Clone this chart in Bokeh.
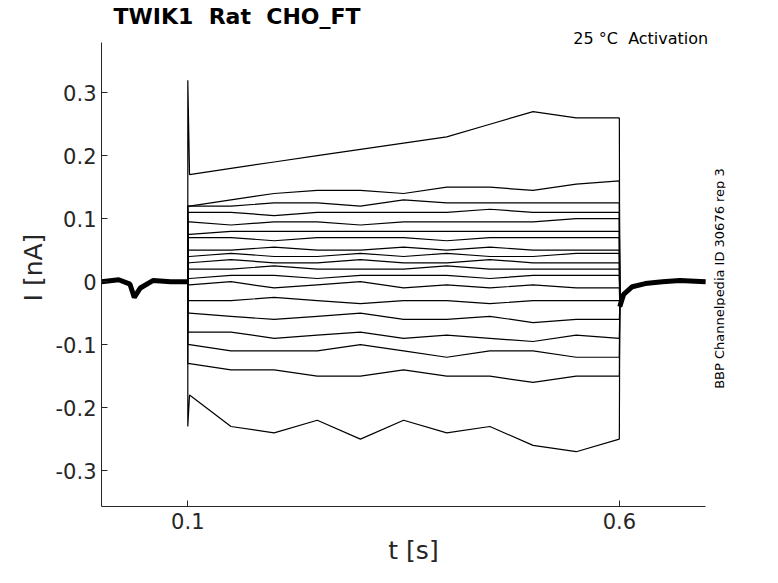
from bokeh.plotting import figure
from bokeh.models import Label, FixedTicker, Range1d
from bokeh.embed import file_html
from bokeh.resources import INLINE
import math

step_t = [0.1, 0.15, 0.2, 0.25, 0.3, 0.35, 0.4, 0.45, 0.5, 0.55, 0.6]
traces = [
 [0.17,0.18,0.19,0.20,0.21,0.22,0.23,0.25,0.27,0.26,0.26],
 [0.12,0.13,0.14,0.145,0.145,0.14,0.15,0.15,0.145,0.155,0.16],
 [0.12,0.12,0.125,0.125,0.12,0.13,0.125,0.125,0.125,0.125,0.125],
 [0.11,0.11,0.105,0.11,0.11,0.11,0.11,0.115,0.11,0.11,0.11],
 [0.095,0.09,0.095,0.095,0.09,0.095,0.095,0.095,0.095,0.1,0.1],
 [0.075,0.08,0.08,0.08,0.08,0.08,0.08,0.08,0.08,0.08,0.08],
 [0.07,0.07,0.065,0.07,0.07,0.07,0.065,0.07,0.07,0.07,0.07],
 [0.05,0.05,0.055,0.05,0.05,0.055,0.05,0.055,0.05,0.05,0.05],
 [0.04,0.045,0.04,0.04,0.045,0.04,0.045,0.04,0.04,0.045,0.045],
 [0.03,0.035,0.03,0.03,0.035,0.03,0.03,0.035,0.03,0.03,0.03],
 [0.02,0.02,0.025,0.02,0.02,0.02,0.025,0.02,0.02,0.02,0.02],
 [0.005,0.01,0.01,0.005,0.01,0.01,0.01,0.005,0.01,0.01,0.01],
 [-0.005,0.0,-0.01,-0.005,0.0,-0.01,-0.005,-0.01,-0.005,-0.01,-0.01],
 [-0.03,-0.03,-0.025,-0.03,-0.035,-0.03,-0.03,-0.035,-0.03,-0.03,-0.03],
 [-0.05,-0.055,-0.06,-0.055,-0.05,-0.06,-0.06,-0.055,-0.065,-0.06,-0.06],
 [-0.08,-0.08,-0.09,-0.085,-0.08,-0.09,-0.085,-0.09,-0.095,-0.085,-0.09],
 [-0.10,-0.11,-0.11,-0.11,-0.10,-0.11,-0.12,-0.11,-0.11,-0.12,-0.12],
 [-0.13,-0.14,-0.14,-0.15,-0.15,-0.14,-0.15,-0.15,-0.16,-0.15,-0.15],
 [-0.18,-0.23,-0.24,-0.22,-0.25,-0.22,-0.24,-0.23,-0.26,-0.27,-0.25],
]
onset = {0: 0.32, 18: -0.23}
pre_t = [0.0, 0.02, 0.033, 0.038, 0.045, 0.06, 0.08, 0.0995]
pre_v = [0.0, 0.003, -0.004, -0.025, -0.01, 0.002, 0.0, 0.0]
post_t = [0.6005, 0.605, 0.615, 0.63, 0.65, 0.67, 0.7]
post_v = [-0.04, -0.02, -0.008, -0.003, 0.0, 0.002, 0.0]
y_ticks = [-0.3, -0.2, -0.1, 0, 0.1, 0.2, 0.3]
y_tick_labels = ["-0.3", "-0.2", "-0.1", "0", "0.1", "0.2", "0.3"]

p = figure(width=762, height=567, output_backend="svg", toolbar_location=None,
           x_range=Range1d(0, 0.723), y_range=Range1d(-0.357, 0.402),
           min_border_left=101, min_border_right=37, min_border_top=28, min_border_bottom=54)
p.title.text = "TWIK1\u00a0\u00a0Rat\u00a0\u00a0CHO_FT"
p.title.text_font = "DejaVu Sans"
p.title.text_font_size = "22px"
p.title.text_font_style = "bold"
p.title.offset = 12
p.title.standoff = 0
p.title.text_color = "black"

p.line(pre_t, pre_v, line_width=5, color="black")
p.line(post_t, post_v, line_width=5, color="black")
for i, tr in enumerate(traces):
    xs = [0.1, 0.1, 0.102] + step_t[1:] + [0.6, 0.6005]
    ys = [0.0, onset.get(i, tr[0]), tr[0]] + tr[1:] + [tr[-1], post_v[0]]
    p.line(xs, ys, color="black", line_width=1.2)

p.grid.visible = False
p.outline_line_color = None
p.xaxis.ticker = FixedTicker(ticks=[0.1, 0.6])
p.xaxis.bounds = (0, 0.7)
p.yaxis.bounds = (-0.357, 0.38)
p.yaxis.ticker = FixedTicker(ticks=y_ticks)
p.yaxis.major_label_overrides = dict(zip(y_ticks, y_tick_labels))
p.xaxis.axis_label = "t [s]"
p.yaxis.axis_label = "I [nA]"
p.xaxis.axis_label_standoff = 4
p.xaxis.major_label_standoff = 6
for ax in (p.xaxis[0], p.yaxis[0]):
    ax.axis_label_text_font = "DejaVu Sans"
    ax.axis_label_text_font_size = "25px"
    ax.axis_label_text_font_style = "normal"
    ax.axis_label_text_color = "#262626"
    ax.major_label_text_font = "DejaVu Sans"
    ax.major_label_text_font_size = "21px"
    ax.major_label_text_color = "#262626"
    ax.axis_line_color = "#262626"
    ax.major_tick_line_color = "#262626"
    ax.major_tick_in = 6
    ax.major_tick_out = 0
    ax.minor_tick_line_color = None

p.add_layout(Label(x=0.703, y=0.386, text="25 °C\u00a0\u00a0Activation", text_align="right",
                   text_baseline="middle", text_font_size="16px", text_font="DejaVu Sans",
                   text_color="black"))
p.add_layout(Label(x=0.7075, y=0.005, text="BBP Channelpedia ID 30676 rep 3", angle=math.pi/2,
                   text_align="center", text_baseline="top", text_font_size="13px",
                   text_font="DejaVu Sans", text_color="black"))

open("out.html", "w").write(file_html(p, INLINE))
